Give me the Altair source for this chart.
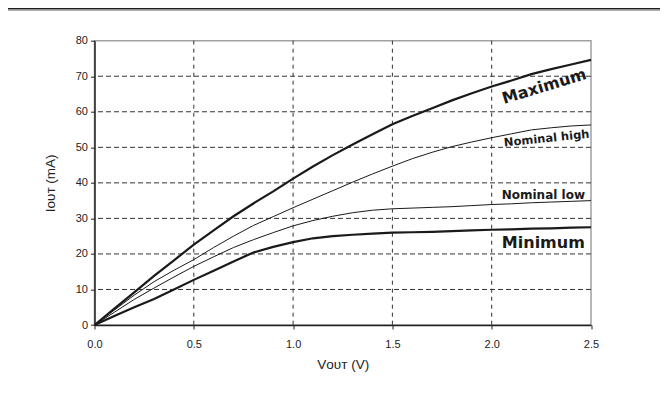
import altair as alt
import pandas as pd

# ---- data ----
vout = [0.0, 0.1, 0.2, 0.3, 0.4, 0.5, 0.6, 0.7, 0.8, 0.9, 1.0, 1.1, 1.2,
        1.3, 1.4, 1.5, 1.6, 1.7, 1.8, 1.9, 2.0, 2.1, 2.2, 2.3, 2.4, 2.5]
maximum = [0, 4.6, 9.2, 13.8, 18.2, 22.6, 26.6, 30.6, 34.2, 37.6, 41.2, 44.6, 47.8,
           50.8, 53.7, 56.5, 58.8, 61.0, 63.2, 65.2, 67.1, 68.8, 70.6, 72.0, 73.3, 74.6]
nominal_high = [0, 4.2, 8.4, 12.2, 15.4, 18.4, 21.8, 25.0, 28.0, 30.5, 33.0, 35.4, 37.8,
                40.2, 42.5, 44.7, 46.8, 48.6, 50.2, 51.5, 52.7, 53.8, 54.9, 55.5, 56.0, 56.3]
nominal_low = [0, 3.6, 7.2, 10.4, 13.5, 16.5, 19.2, 21.8, 24.0, 26.0, 27.9, 29.4, 30.6,
               31.6, 32.3, 32.7, 32.9, 33.1, 33.3, 33.6, 33.9, 34.1, 34.4, 34.6, 34.8, 35.0]
minimum = [0, 2.5, 5.0, 7.3, 10.0, 12.7, 15.3, 17.9, 20.4, 22.0, 23.3, 24.4, 25.0,
           25.4, 25.7, 26.0, 26.1, 26.2, 26.4, 26.6, 26.8, 26.9, 27.1, 27.2, 27.4, 27.5]

series_names = ["Maximum", "Nominal high", "Nominal low", "Minimum"]
series_values = [maximum, nominal_high, nominal_low, minimum]
series_widths = [2.2, 1.0, 1.0, 2.2]

label_text = ["Maximum", "Nominal high", "Nominal low", "Minimum"]
label_x = [2.265, 2.277, 2.26, 2.26]
label_y = [67.1, 52.3, 36.6, 23.2]
label_angle = [343, 354, 0, 0]
label_size = [16, 11.5, 12, 16]

y_grid = [10, 20, 30, 40, 50, 60, 70]
x_grid = [0.5, 1.0, 1.5, 2.0]
x_ticks = [0, 0.5, 1.0, 1.5, 2.0, 2.5]
y_ticks = [0, 10, 20, 30, 40, 50, 60, 70, 80]

W, H = 496.5, 284.3
PL, PT, PR, PB = 86.5, 32.7, 69, 69

xs = alt.Scale(domain=[0, 2.5], nice=False)
ys = alt.Scale(domain=[0, 80], nice=False)
x_axis = alt.Axis(title="Vᴏᴜᴛ (V)", values=x_ticks, format=".1f", grid=False,
                  tickSize=4, labelPadding=9, titlePadding=8, labelFlush=False)
y_axis = alt.Axis(title="Iᴏᴜᴛ (mA)", values=y_ticks, grid=False,
                  tickSize=4, labelPadding=3, titlePadding=18, labelFlush=False)


def X(field):
    return alt.X(field, scale=xs, axis=x_axis)


def Y(field):
    return alt.Y(field, scale=ys, axis=y_axis)


hgrid = alt.Chart(pd.DataFrame({"g": y_grid})).mark_rule(
    color="#333", strokeDash=[5, 3], strokeWidth=1
).encode(y=Y("g:Q"))

vgrid = alt.Chart(pd.DataFrame({"g": x_grid})).mark_rule(
    color="#333", strokeDash=[4, 4], strokeWidth=1
).encode(x=X("g:Q"))

line_layers = []
for name, vals, w in zip(series_names, series_values, series_widths):
    d = pd.DataFrame({"v": vout, "i": vals, "series": name})
    line_layers.append(
        alt.Chart(d).mark_line(color="#1a1a1a", strokeWidth=w).encode(
            x=X("v:Q"), y=Y("i:Q"))
    )

labels_df = pd.DataFrame({"t": label_text, "x": label_x, "y": label_y})
label_layers = []
for k in range(len(label_text)):
    label_layers.append(
        alt.Chart(labels_df.iloc[[k]]).mark_text(
            font="DejaVu Sans", fontWeight="bold", color="#1a1a1a",
            angle=label_angle[k], fontSize=label_size[k],
            align="center", baseline="middle"
        ).encode(x=X("x:Q"), y=Y("y:Q"), text="t:N")
    )

dummy = pd.DataFrame({"d": [0]})
header_dark = alt.Chart(dummy).mark_rect(color="#1e1e1e").encode(
    x=alt.value(-PL), x2=alt.value(W + PR), y=alt.value(-PT), y2=alt.value(-PT + 1.6))
header_gray = alt.Chart(dummy).mark_rule(color="#9a9a9a", strokeWidth=1).encode(
    x=alt.value(-PL), x2=alt.value(W + PR), y=alt.value(-PT + 2.3))

chart = alt.layer(
    hgrid, vgrid, *line_layers, *label_layers, header_dark, header_gray
).properties(
    width=W, height=H,
    padding={"left": PL, "top": PT, "right": PR, "bottom": PB},
    autosize=alt.AutoSizeParams(type="none"),
).configure_view(
    stroke="#a0a0a0", strokeWidth=1.5
).configure_axis(
    domainColor="#222", domainWidth=1.5, tickColor="#222", tickWidth=1,
    labelFont="Liberation Sans", labelFontSize=11, labelColor="#222",
    titleFont="Liberation Sans", titleFontSize=13.5, titleFontWeight="normal",
    titleColor="#222"
)

chart.save("out.html", embed_options={"renderer": "svg", "actions": False})
